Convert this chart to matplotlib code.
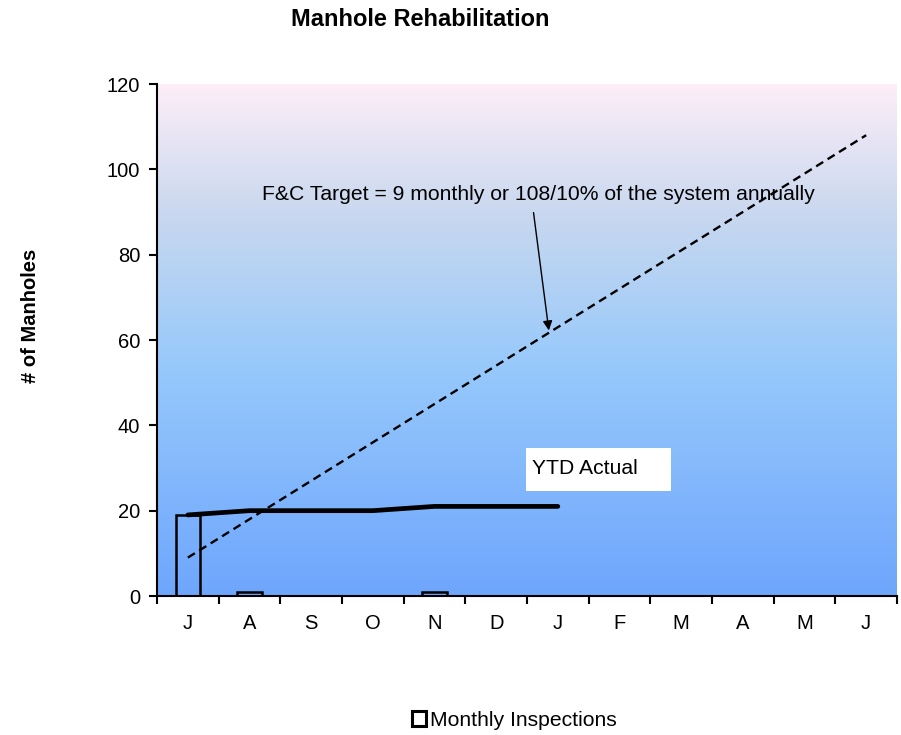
import numpy as np
import matplotlib
matplotlib.use("Agg")
import matplotlib.pyplot as plt
from matplotlib.colors import LinearSegmentedColormap
from matplotlib.patches import Rectangle

months = ["J", "A", "S", "O", "N", "D", "J", "F", "M", "A", "M", "J"]
monthly_inspections = [19, 1, 0, 0, 1, 0, 0, 0, 0, 0, 0, 0]
ytd_actual = [19, 20, 20, 20, 21, 21, 21]
target = [9, 18, 27, 36, 45, 54, 63, 72, 81, 90, 99, 108]

plt.rcParams['font.family'] = ['Liberation Sans', 'DejaVu Sans']

fig = plt.figure(figsize=(9.01, 7.35), dpi=100)
ax = fig.add_axes([157/901, 1-596/735, (897-157)/901, (596-84)/735])

x = np.arange(len(months))
ax.set_xlim(-0.5, len(months)-0.5)
ax.set_ylim(0, 120)

# gradient background
cmap = LinearSegmentedColormap.from_list("bg", [(0.0, "#6ea6fd"), (0.45, "#97c9fb"), (0.75, "#c9d8ef"), (1.0, "#fdeef8")])
grad = np.linspace(0, 1, 256).reshape(-1, 1)
ax.imshow(grad, aspect='auto', cmap=cmap, origin='lower',
          extent=[-0.5, len(months)-0.5, 0, 120], zorder=0)

ax.bar(x, monthly_inspections, width=0.4, facecolor='none', edgecolor='black',
       linewidth=1.8, zorder=2, label="Monthly Inspections")
ax.plot(x[:len(ytd_actual)], ytd_actual, color='black', linewidth=3.4,
        solid_capstyle='round', zorder=3)
ax.plot(x, target, color='black', linestyle=(0, (3.5, 2.2)), linewidth=1.7, zorder=3)

for s in ['top', 'right']:
    ax.spines[s].set_visible(False)
for s in ['left', 'bottom']:
    ax.spines[s].set_linewidth(1.5)

ax.set_yticks(range(0, 121, 20))
ax.set_xticks(x)
ax.set_xticklabels(months)
ax.set_xticks(np.arange(-0.5, len(months)), minor=True)
ax.tick_params(axis='x', which='major', length=0, pad=13, labelsize=14.5)
ax.tick_params(axis='x', which='minor', length=6, width=1.5, direction='out')
ax.tick_params(axis='y', length=6, width=1.5, direction='out', labelsize=14.5, pad=6)

ax.text(1.20, 94.0, "F&C Target = 9 monthly or 108/10% of the system annually",
        fontsize=15.2, ha='left', va='center', zorder=5)
ax.annotate("", xy=(5.86, 61.6), xytext=(5.6, 90.5),
            arrowprops=dict(arrowstyle='-|>', color='black', lw=1.0,
                            mutation_scale=14), zorder=5)

ax.add_patch(Rectangle((5.48, 24.6), 7.83-5.48, 34.7-24.6, facecolor='white',
                       edgecolor='none', zorder=4))
ax.text(5.58, 30.0, "YTD Actual", fontsize=15.2, ha='left', va='center', zorder=5)

fig.text(420/901, 1-20/735, "Manhole Rehabilitation", fontsize=17, fontweight='bold',
         ha='center', va='center')
fig.text(30/901, 1-316/735, "# of Manholes", fontsize=14.5, fontweight='bold',
         ha='center', va='center', rotation=90)

leg = fig.legend(loc='center', bbox_to_anchor=(514/901, 1-720/735), frameon=False,
                 fontsize=15.2, handlelength=0.7, handleheight=0.7, handletextpad=0.15)
for h in leg.legend_handles:
    h.set_linewidth(2.2)

fig.savefig("out.png", dpi=100)
